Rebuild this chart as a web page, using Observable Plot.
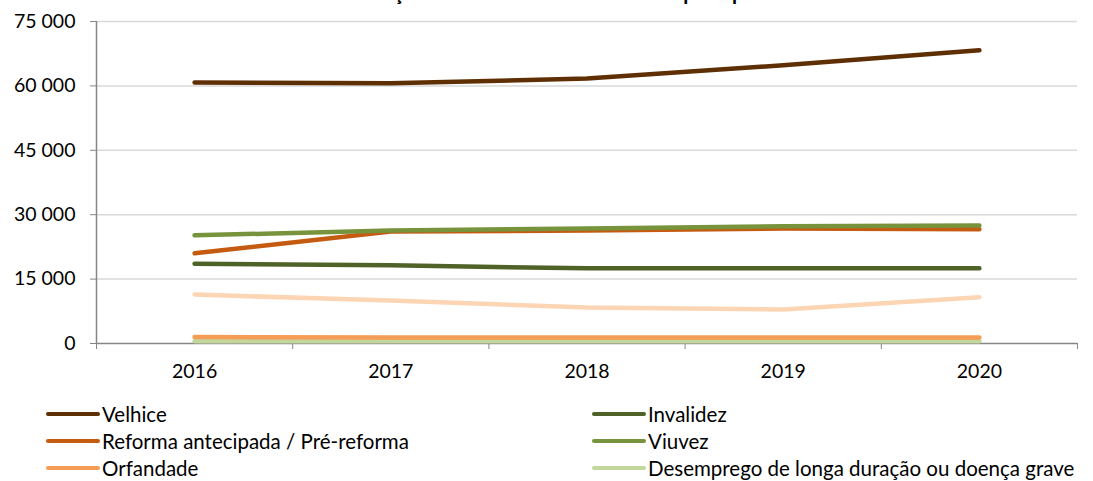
<!DOCTYPE html>
<html>
<head>
<meta charset="utf-8">
<script src="https://cdn.jsdelivr.net/npm/d3@7"></script>
<script src="https://cdn.jsdelivr.net/npm/@observablehq/plot@0.6"></script>
<style>
  body { margin: 0; background: #fff; font-family: Lato, "Open Sans", sans-serif; }
  #wrap { position: relative; width: 1093px; height: 481px; overflow: hidden; }
  #title { position: absolute; top: -20px; left: 0; width: 1110px; text-align: center; line-height: 24px;
           font-weight: bold; font-size: 20.5px; color: #000; white-space: nowrap; }
  #chart { position: absolute; top: 0; left: 0; }
  #legend { position: absolute; top: 400px; left: 46px; display: grid;
            grid-template-columns: 546px 500px; grid-auto-rows: 27px; font-size: 20.5px; color: #000; }
  .item { display: flex; align-items: center; white-space: nowrap; }
  .swatch { width: 54px; height: 4px; border-radius: 2px; margin-right: 2px; }
</style>
</head>
<body>
<div id="wrap">
  <div id="title">Gráfico 10: Evolução do número de beneficiários por tipo de benefício</div>
  <div id="chart"></div>
  <div id="legend"></div>
</div>
<script>
const years = [2016, 2017, 2018, 2019, 2020];
const velhice   = [60800, 60600, 61700, 64800, 68300];
const invalidez = [18600, 18200, 17500, 17500, 17500];
const reforma   = [21000, 26100, 26300, 26800, 26600];
const viuvez    = [25200, 26300, 26800, 27300, 27500];
const orfandade = [1500, 1400, 1400, 1400, 1400];
const desemprego = [500, 500, 500, 500, 500];
const outros    = [11400, 10000, 8400, 7900, 10800];

const seriesNames = ["Velhice", "Invalidez", "Reforma antecipada / Pré-reforma", "Viuvez", "Orfandade", "Desemprego de longa duração ou doença grave", "Outros"];
const seriesValues = [velhice, invalidez, reforma, viuvez, orfandade, desemprego, outros];
const seriesColors = ["#5f2f04", "#4f6228", "#c55a11", "#77933c", "#f59d56", "#c3d69b", "#fcd5b5"];
const yTicks = [0, 15000, 30000, 45000, 60000, 75000];

const drawOrder = ["Outros", "Desemprego de longa duração ou doença grave", "Orfandade", "Invalidez", "Reforma antecipada / Pré-reforma", "Viuvez", "Velhice"];
const data = [];
drawOrder.forEach(name => {
  const i = seriesNames.indexOf(name);
  years.forEach((y, j) => data.push({series: name, year: y, value: seriesValues[i][j]}));
});

const fmt = v => d3.format(",")(v).replace(/,/g, "\u00a0");
const boundaries = years.map(y => y - 0.5).concat([years[years.length - 1] + 0.5]);

const chart = Plot.plot({
  width: 1093,
  height: 390,
  marginLeft: 96,
  marginRight: 16,
  marginTop: 21,
  marginBottom: 47,
  style: { fontFamily: "Lato, 'Open Sans', sans-serif", fontSize: "19.5px", color: "#000", background: "transparent" },
  x: { domain: [2015.5, 2020.5] },
  y: { domain: [0, 75000] },
  color: { domain: seriesNames, range: seriesColors },
  marks: [
    Plot.gridY(yTicks.slice(1), { stroke: "#d9d9d9", strokeOpacity: 1, strokeWidth: 1.5 }),
    Plot.ruleY([0], { stroke: "#868686", strokeWidth: 1.5 }),
    Plot.ruleX([2015.5], { stroke: "#868686", strokeWidth: 1.5 }),
    Plot.axisY({ ticks: yTicks, tickFormat: fmt, tickSize: 6, tickPadding: 15, stroke: "#868686", label: null }),
    Plot.axisX({ ticks: boundaries, tickFormat: () => "", tickSize: 6, stroke: "#868686", label: null }),
    Plot.axisX({ ticks: years, tickFormat: d => String(d), tickSize: 0, tickPadding: 21, label: null }),
    Plot.line(data, { x: "year", y: "value", z: "series", stroke: "series", strokeWidth: 4.5, strokeLinecap: "round", strokeLinejoin: "round" })
  ]
});
document.getElementById("chart").appendChild(chart);

const legend = document.getElementById("legend");
const leftCol = ["Velhice", "Reforma antecipada / Pré-reforma", "Orfandade"];
const rightCol = ["Invalidez", "Viuvez", "Desemprego de longa duração ou doença grave"];
for (let r = 0; r < 3; r++) {
  [leftCol[r], rightCol[r]].forEach(name => {
    const c = seriesColors[seriesNames.indexOf(name)];
    const div = document.createElement("div");
    div.className = "item";
    div.innerHTML = `<span class="swatch" style="background:${c}"></span><span>${name}</span>`;
    legend.appendChild(div);
  });
}
</script>
</body>
</html>
